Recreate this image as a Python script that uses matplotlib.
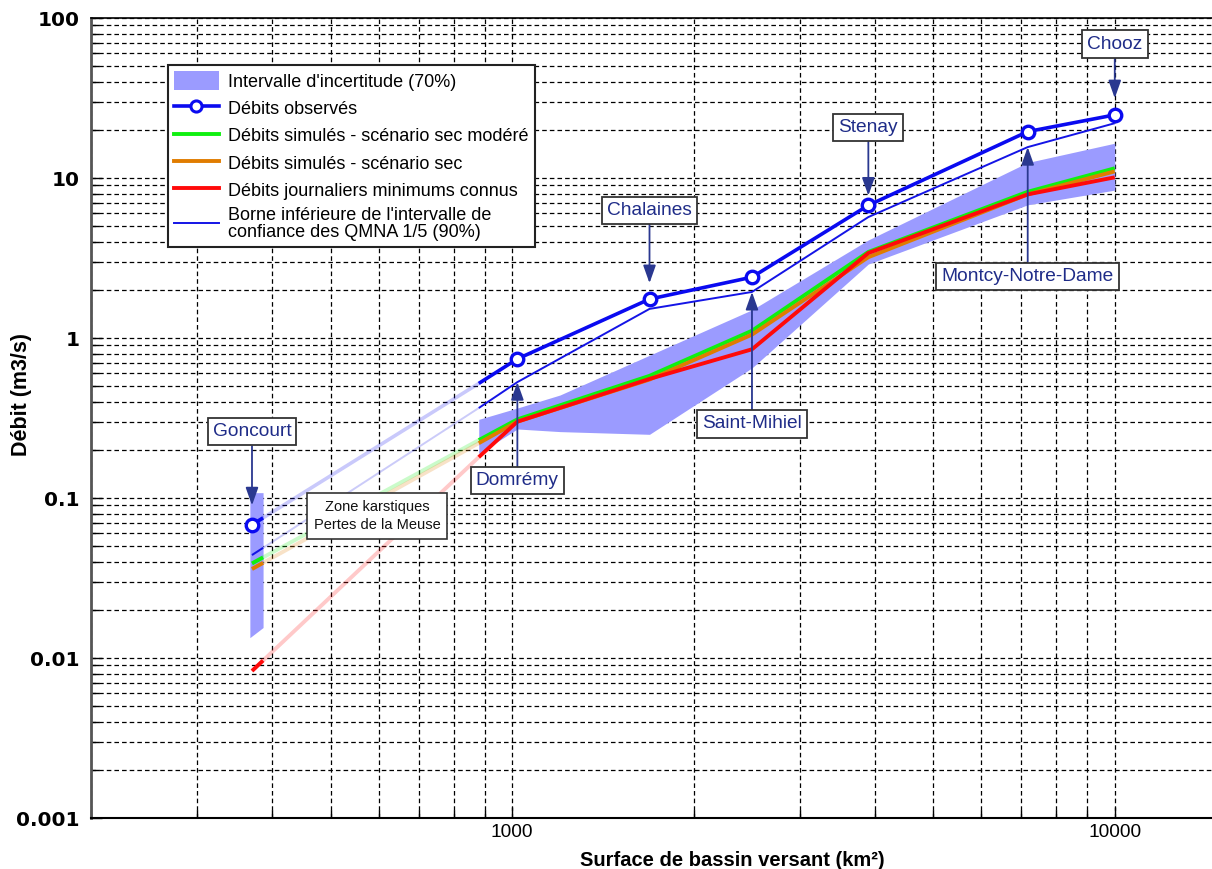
import numpy as np
import matplotlib
matplotlib.use("Agg")
import matplotlib.pyplot as plt
from matplotlib.patches import Patch
from matplotlib.lines import Line2D
from matplotlib.ticker import FuncFormatter, NullFormatter, LogLocator

# --- data (surface in km², flows in m3/s) ---
surface_km2 = [370, 880, 1020, 1690, 2500, 3900, 7170, 10000]
station = ["Goncourt", None, "Domrémy", "Chalaines", "Saint-Mihiel",
           "Stenay", "Montcy-Notre-Dame", "Chooz"]
q_obs = [0.068, 0.52, 0.74, 1.75, 2.40, 6.75, 19.5, 24.8]
q_borne_inf = [0.044, 0.365, 0.53, 1.52, 1.94, 5.7, 15.6, 22.0]
q_sec_modere = [0.039, 0.23, 0.31, 0.58, 1.11, 3.45, 8.2, 11.5]
q_sec = [0.036, 0.22, 0.30, 0.55, 1.05, 3.2, 7.9, 11.0]
q_min_connu = [0.0083, 0.18, 0.30, 0.555, 0.85, 3.4, 7.9, 10.1]

# 70% uncertainty band
band_x = [880, 1020, 1200, 1690, 2500, 3900, 7170, 10000]
band_hi = [0.31, 0.365, 0.44, 0.78, 1.5, 4.1, 12.5, 16.5]
band_lo = [0.19, 0.27, 0.26, 0.25, 0.65, 2.9, 6.8, 8.4]
band_gonc_x = [367, 386]
band_gonc_hi = [0.108, 0.108]
band_gonc_lo = [0.0134, 0.0155]

labels = ["Intervalle d'incertitude (70%)",
          "Débits observés",
          "Débits simulés - scénario sec modéré",
          "Débits simulés - scénario sec",
          "Débits journaliers minimums connus",
          "Borne inférieure de l'intervalle de\nconfiance des QMNA 1/5 (90%)"]

# --- style ---
plt.rcParams['lines.scale_dashes'] = False
SANS = ['Liberation Sans', 'DejaVu Sans']
c_band = '#9b9bff'
c_obs = '#0a0af0'
c_thin = '#1414e6'
c_green = '#10f010'
c_orange = '#e07c00'
c_red = '#ff0a0a'
c_annot = '#1f2c88'
STUB_END = 386  # end of solid stub right of Goncourt

fig = plt.figure(figsize=(12.12, 8.69), dpi=100)
ax = fig.add_axes([91 / 1212, 51 / 869, 1121 / 1212, 800 / 869])
ax.set_xscale('log')
ax.set_yscale('log')
ax.set_xlim(200, 14500)
ax.set_ylim(0.001, 100)

# grid
ax.xaxis.set_minor_locator(LogLocator(base=10, subs=np.arange(2, 10)))
ax.yaxis.set_minor_locator(LogLocator(base=10, subs=np.arange(2, 10)))
ax.grid(True, which='both', color='black', linestyle=(0, (3.3, 2.2)), linewidth=0.9, zorder=0)
ax.set_axisbelow(True)

# band
ax.fill_between(band_x, band_lo, band_hi, color=c_band, lw=0, zorder=2)
ax.fill_between(band_gonc_x, band_gonc_lo, band_gonc_hi, color=c_band, lw=0, zorder=2)


def draw_series(y, color, lw, z):
    xs = np.array(surface_km2, dtype=float)
    ys = np.array(y, dtype=float)
    # karstic zone: faded segment
    ax.plot(xs[:2], ys[:2], color=color, lw=lw, alpha=0.22, solid_capstyle='butt', zorder=z)
    stub_x = np.array([xs[0], STUB_END])
    stub_y = 10 ** np.interp(np.log10(stub_x), np.log10(xs[:2]), np.log10(ys[:2]))
    ax.plot(stub_x, stub_y, color=color, lw=lw, solid_capstyle='butt', zorder=z)
    ax.plot(xs[1:], ys[1:], color=color, lw=lw, solid_capstyle='butt', zorder=z)


draw_series(q_min_connu, c_red, 2.8, 4)
draw_series(q_sec, c_orange, 2.8, 3.6)
draw_series(q_sec_modere, c_green, 2.8, 3.5)
draw_series(q_borne_inf, c_thin, 1.4, 5)
draw_series(q_obs, c_obs, 2.6, 6)

st_x = [x for x, s in zip(surface_km2, station) if s]
st_y = [q for q, s in zip(q_obs, station) if s]
ax.plot(st_x, st_y, 'o', ms=9, mfc='white', mec=c_obs, mew=2.4, zorder=7)

# station annotations: (anchor series, vertical offset pt, gap pt)
annot = {
    "Goncourt": (q_obs, 67, 14),
    "Domrémy": (q_borne_inf, -71, 0),
    "Chalaines": (q_obs, 64, 11.5),
    "Saint-Mihiel": (q_borne_inf, -95, 0),
    "Stenay": (q_obs, 56, 7),
    "Montcy-Notre-Dame": (q_borne_inf, -93, 0),
    "Chooz": (q_obs, 51, 12),
}
for i, name in enumerate(station):
    if not name:
        continue
    series, dy, gap = annot[name]
    ax.annotate(name, xy=(surface_km2[i], series[i]), xytext=(0, dy),
                textcoords='offset points', ha='center', va='center',
                family=SANS, fontsize=13.8, color=c_annot, zorder=9,
                bbox=dict(boxstyle='square,pad=0.27', fc='white', ec='#333333', lw=1.3),
                arrowprops=dict(arrowstyle='-|>,head_length=0.9,head_width=0.32',
                                mutation_scale=12, color='#2a3890', lw=1.3,
                                shrinkA=0, shrinkB=gap))

ax.text(597, 0.0772, "Zone karstiques\nPertes de la Meuse", ha='center', va='center',
        family=SANS, fontsize=10.5, color='#111111', zorder=8, linespacing=1.45,
        bbox=dict(boxstyle='square,pad=0.45', fc='white', ec='#333333', lw=1.2))

# legend
handles = [Patch(fc=c_band, ec='none'),
           Line2D([], [], color=c_obs, lw=2.6, marker='o', ms=8, mfc='white', mec=c_obs, mew=2.2),
           Line2D([], [], color=c_green, lw=2.8),
           Line2D([], [], color=c_orange, lw=2.8),
           Line2D([], [], color=c_red, lw=2.8),
           Line2D([], [], color=c_thin, lw=1.4)]
leg = ax.legend(handles, labels, loc='upper left',
                bbox_to_anchor=((168 - 91) / 1121, (818 - 65) / 800), borderaxespad=0,
                frameon=True, fancybox=False, framealpha=1, edgecolor='#222222',
                prop=dict(family=SANS, size=13), handlelength=2.45, handleheight=1.25,
                labelspacing=0.42, borderpad=0.35, handletextpad=0.55)
leg.get_frame().set_linewidth(1.5)
leg.get_texts()[-1].set_linespacing(0.95)
leg.set_zorder(10)

# axes, ticks, labels
fmt = FuncFormatter(lambda v, p: f"{v:g}")
ax.xaxis.set_major_formatter(fmt)
ax.yaxis.set_major_formatter(fmt)
ax.xaxis.set_minor_formatter(NullFormatter())
ax.yaxis.set_minor_formatter(NullFormatter())
ax.tick_params(which='both', direction='in', colors='black')
ax.tick_params(which='major', length=8, width=1)
ax.tick_params(which='minor', length=6, width=1)
ax.tick_params(axis='y', pad=8)
ax.tick_params(axis='x', pad=4)
for t in ax.get_yticklabels():
    t.set_fontsize(14.5)
    t.set_fontweight('bold')
for t in ax.get_xticklabels():
    t.set_family(SANS)
    t.set_fontsize(13.8)

ax.spines['right'].set_visible(False)
ax.spines['left'].set_color('#555555')
ax.spines['left'].set_linewidth(2)
ax.spines['bottom'].set_linewidth(1.5)
ax.spines['top'].set_linewidth(1.2)

ax.set_ylabel("Débit (m3/s)", family=SANS, fontweight='bold', fontsize=15.5)
ax.yaxis.set_label_coords(-0.0526, 0.53)
ax.set_xlabel("Surface de bassin versant (km²)", family=SANS, fontweight='bold', fontsize=14.5)
ax.xaxis.set_label_coords(0.572, -0.041)

fig.savefig("out.png", dpi=100)
